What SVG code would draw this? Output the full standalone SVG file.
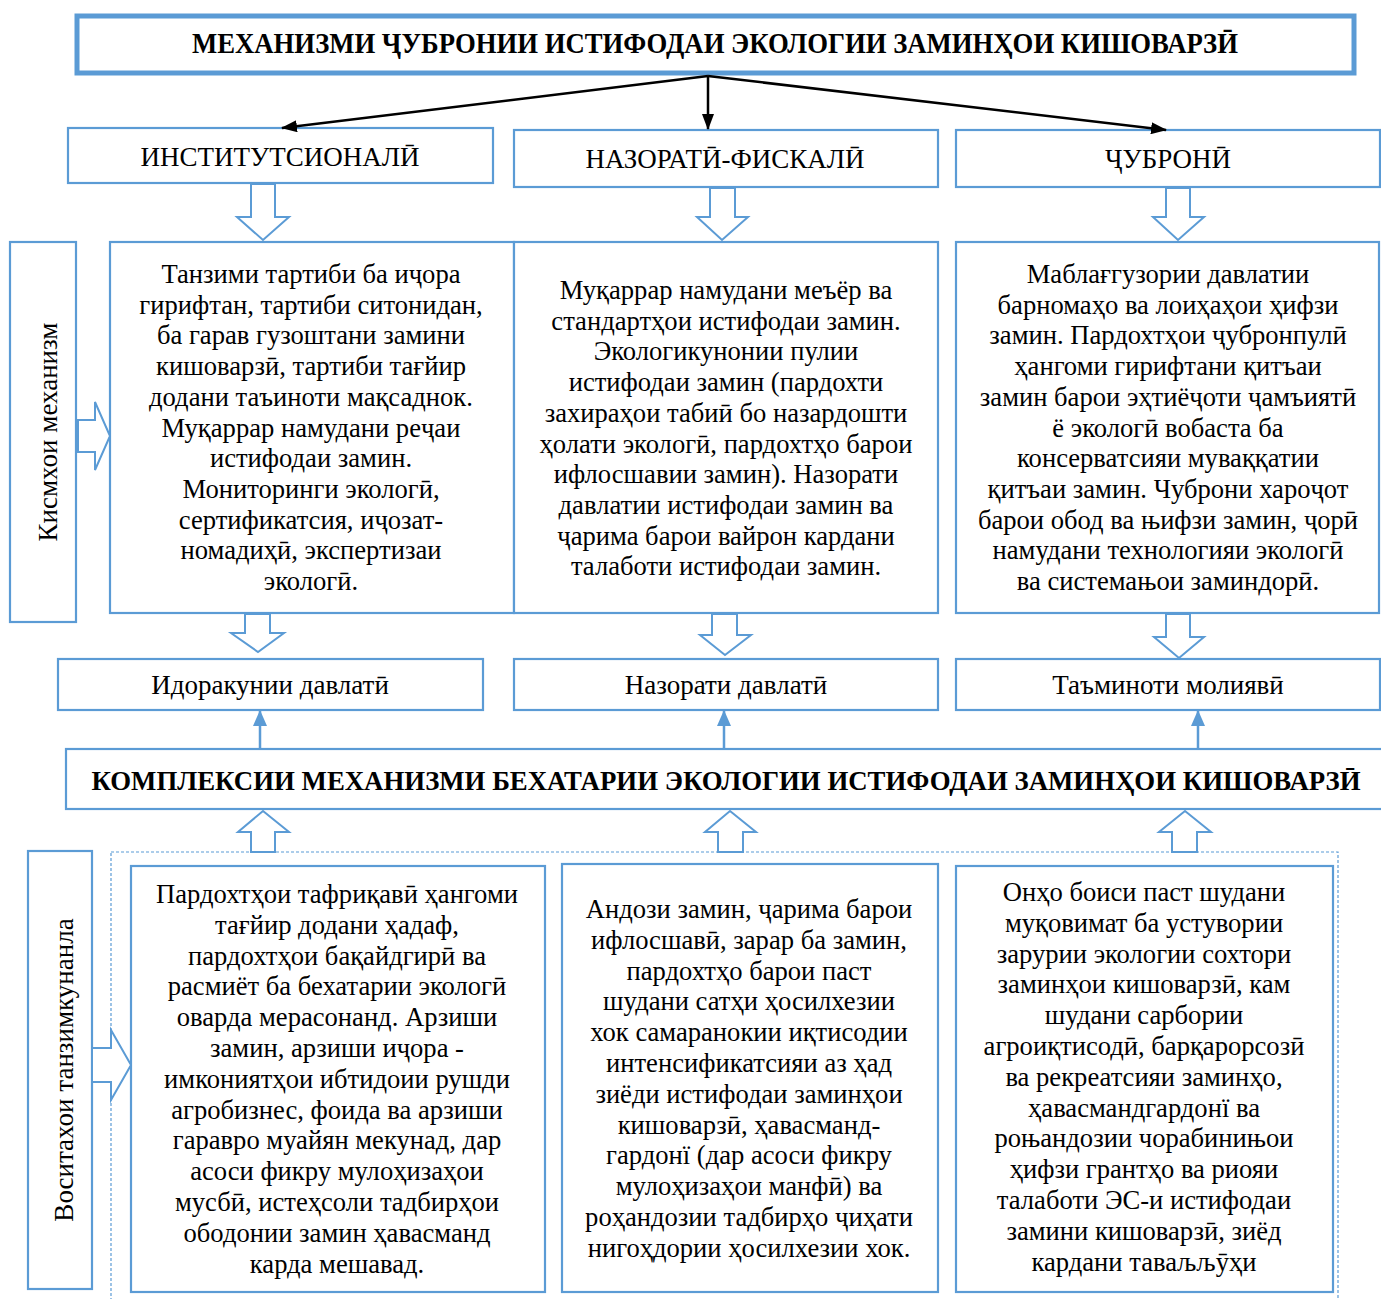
<svg xmlns="http://www.w3.org/2000/svg" width="1381" height="1299" viewBox="0 0 1381 1299">
<style>
.bx{fill:#fff;stroke:#5b9bd5;stroke-width:2.2}
.ha{fill:#fff;stroke:#5b9bd5;stroke-width:2}
.t{font-family:"Liberation Serif","DejaVu Serif",serif;font-size:26.6px;fill:#000;text-anchor:middle}
.h{font-family:"Liberation Serif","DejaVu Serif",serif;font-size:27px;fill:#000;text-anchor:middle}
.hb{font-family:"Liberation Serif","DejaVu Serif",serif;font-weight:bold;fill:#000;text-anchor:middle}
.k{stroke:#000;stroke-width:2.5;fill:none}
.bl{stroke:#5b9bd5;stroke-width:2.5;fill:none}
</style>
<defs>
<marker id="ak" viewBox="0 0 16 12" refX="15" refY="6" markerWidth="16" markerHeight="12" markerUnits="userSpaceOnUse" orient="auto"><path d="M0,0 L16,6 L0,12 z" fill="#000"/></marker>
<marker id="ab" viewBox="0 0 16 14" refX="15" refY="7" markerWidth="16" markerHeight="14" markerUnits="userSpaceOnUse" orient="auto"><path d="M0,0 L16,7 L0,14 z" fill="#5b9bd5"/></marker>
</defs>
<rect width="1381" height="1299" fill="#fff"/>

<g id="title">
<rect x="77" y="16" width="1277" height="57" fill="#fff" stroke="#5b9bd5" stroke-width="5"/>
<text class="hb" x="715" y="53" font-size="29" textLength="1046" lengthAdjust="spacingAndGlyphs">МЕХАНИЗМИ ҶУБРОНИИ ИСТИФОДАИ ЭКОЛОГИИ ЗАМИНҲОИ КИШОВАРЗӢ</text>
</g>

<g id="institutional">
<rect class="bx" x="68" y="128" width="425" height="55"/>
<text class="h" x="280" y="166">ИНСТИТУТСИОНАЛӢ</text>
</g>
<g id="fiscal">
<rect class="bx" x="514" y="130" width="424" height="57"/>
<text class="h" x="725" y="168">НАЗОРАТӢ-ФИСКАЛӢ</text>
</g>
<g id="compensation">
<rect class="bx" x="956" y="130" width="424" height="57"/>
<text class="h" x="1168" y="168">ҶУБРОНӢ</text>
</g>

<g id="label-parts">
<rect class="bx" x="10" y="242" width="66" height="380"/>
<text class="h" font-size="26" transform="translate(57,432) rotate(-90)">Кисмхои механизм</text>
</g>

<g id="text-institutional">
<rect class="bx" x="110" y="242" width="404" height="371"/>
<text class="t"><tspan x="311" y="283">Танзими тартиби ба иҷора</tspan><tspan x="311" y="313.7">гирифтан, тартиби ситонидан,</tspan><tspan x="311" y="344.4">ба гарав гузоштани замини</tspan><tspan x="311" y="375.1">кишоварзӣ, тартиби тағйир</tspan><tspan x="311" y="405.8">додани таъиноти мақсаднок.</tspan><tspan x="311" y="436.5">Муқаррар намудани реҷаи</tspan><tspan x="311" y="467.2">истифодаи замин.</tspan><tspan x="311" y="497.9">Мониторинги экологӣ,</tspan><tspan x="311" y="528.6">сертификатсия, иҷозат-</tspan><tspan x="311" y="559.3">номадиҳӣ, экспертизаи</tspan><tspan x="311" y="590">экологӣ.</tspan></text>
</g>

<g id="text-fiscal">
<rect class="bx" x="514" y="242" width="424" height="371"/>
<text class="t"><tspan x="726" y="299">Муқаррар намудани меъёр ва</tspan><tspan x="726" y="329.7">стандартҳои истифодаи замин.</tspan><tspan x="726" y="360.4">Экологикунонии пулии</tspan><tspan x="726" y="391.1">истифодаи замин (пардохти</tspan><tspan x="726" y="421.8">захираҳои табиӣ бо назардошти</tspan><tspan x="726" y="452.5">ҳолати экологӣ, пардохтҳо барои</tspan><tspan x="726" y="483.2">ифлосшавии замин). Назорати</tspan><tspan x="726" y="513.9">давлатии истифодаи замин ва</tspan><tspan x="726" y="544.6">ҷарима барои вайрон кардани</tspan><tspan x="726" y="575.3">талаботи истифодаи замин.</tspan></text>
</g>

<g id="text-compensation">
<rect class="bx" x="956" y="242" width="423" height="371"/>
<text class="t"><tspan x="1168" y="283">Маблағгузории давлатии</tspan><tspan x="1168" y="313.7">барномаҳо ва лоиҳаҳои ҳифзи</tspan><tspan x="1168" y="344.4">замин. Пардохтҳои ҷубронпулӣ</tspan><tspan x="1168" y="375.1">ҳангоми гирифтани қитъаи</tspan><tspan x="1168" y="405.8">замин барои эҳтиёҷоти ҷамъиятӣ</tspan><tspan x="1168" y="436.5">ё экологӣ вобаста ба</tspan><tspan x="1168" y="467.2">консерватсияи муваққатии</tspan><tspan x="1168" y="497.9">қитъаи замин. Чуброни хароҷот</tspan><tspan x="1168" y="528.6">барои обод ва њифзи замин, ҷорӣ</tspan><tspan x="1168" y="559.3">намудани технологияи экологӣ</tspan><tspan x="1168" y="590">ва системањои заминдорӣ.</tspan></text>
</g>

<g id="state-management">
<rect class="bx" x="58" y="659" width="425" height="51"/>
<text class="h" x="270" y="694">Идоракунии давлатӣ</text>
</g>
<g id="state-control">
<rect class="bx" x="514" y="659" width="424" height="51"/>
<text class="h" x="726" y="694">Назорати давлатӣ</text>
</g>
<g id="financing">
<rect class="bx" x="956" y="659" width="424" height="51"/>
<text class="h" x="1168" y="694">Таъминоти молиявӣ</text>
</g>

<g id="complex">
<rect class="bx" x="66" y="749" width="1330" height="60"/>
<text class="hb" x="726" y="790" font-size="27" textLength="1269" lengthAdjust="spacingAndGlyphs">КОМПЛЕКСИИ МЕХАНИЗМИ БЕХАТАРИИ ЭКОЛОГИИ ИСТИФОДАИ ЗАМИНҲОИ КИШОВАРЗӢ</text>
</g>

<g id="container">
<rect x="111" y="852" width="1227" height="460" fill="none" stroke="#5b9bd5" stroke-width="1.2" stroke-dasharray="3 2"/>
</g>

<g id="label-tools">
<rect class="bx" x="28" y="851" width="64" height="438"/>
<text class="h" font-size="26" transform="translate(73,1070) rotate(-90)">Воситахои танзимкунанла</text>
</g>

<g id="tools-1">
<rect class="bx" x="131" y="866" width="414" height="426" stroke-width="3"/>
<text class="t"><tspan x="337" y="903">Пардохтҳои тафриқавӣ ҳангоми</tspan><tspan x="337" y="933.8">тағйир додани ҳадаф,</tspan><tspan x="337" y="964.6">пардохтҳои бақайдгирӣ ва</tspan><tspan x="337" y="995.4">расмиёт ба бехатарии экологӣ</tspan><tspan x="337" y="1026.2">оварда мерасонанд. Арзиши</tspan><tspan x="337" y="1057">замин, арзиши иҷора -</tspan><tspan x="337" y="1087.8">имкониятҳои ибтидоии рушди</tspan><tspan x="337" y="1118.6">агробизнес, фоида ва арзиши</tspan><tspan x="337" y="1149.4">гаравро муайян мекунад, дар</tspan><tspan x="337" y="1180.2">асоси фикру мулоҳизаҳои</tspan><tspan x="337" y="1211">мусбӣ, истеҳсоли тадбирҳои</tspan><tspan x="337" y="1241.8">ободонии замин ҳавасманд</tspan><tspan x="337" y="1272.6">карда мешавад.</tspan></text>
</g>

<g id="tools-2">
<rect class="bx" x="562" y="864" width="376" height="428" stroke-width="3"/>
<text class="t"><tspan x="749" y="918">Андози замин, ҷарима барои</tspan><tspan x="749" y="948.8">ифлосшавӣ, зарар ба замин,</tspan><tspan x="749" y="979.6">пардохтҳо барои паст</tspan><tspan x="749" y="1010.4">шудани сатҳи ҳосилхезии</tspan><tspan x="749" y="1041.2">хок самаранокии иқтисодии</tspan><tspan x="749" y="1072">интенсификатсияи аз ҳад</tspan><tspan x="749" y="1102.8">зиёди истифодаи заминҳои</tspan><tspan x="749" y="1133.6">кишоварзӣ, ҳавасманд-</tspan><tspan x="749" y="1164.4">гардонї (дар асоси фикру</tspan><tspan x="749" y="1195.2">мулоҳизаҳои манфӣ) ва</tspan><tspan x="749" y="1226">роҳандозии тадбирҳо ҷиҳати</tspan><tspan x="749" y="1256.8">нигоҳдории ҳосилхезии хок.</tspan></text>
</g>

<g id="tools-3">
<rect class="bx" x="956" y="866" width="377" height="426" stroke-width="3"/>
<text class="t"><tspan x="1144" y="901">Онҳо боиси паст шудани</tspan><tspan x="1144" y="931.8">муқовимат ба устувории</tspan><tspan x="1144" y="962.6">зарурии экологии сохтори</tspan><tspan x="1144" y="993.4">заминҳои кишоварзӣ, кам</tspan><tspan x="1144" y="1024.2">шудани сарбории</tspan><tspan x="1144" y="1055">агроиқтисодӣ, барқарорсозӣ</tspan><tspan x="1144" y="1085.8">ва рекреатсияи заминҳо,</tspan><tspan x="1144" y="1116.6">ҳавасмандгардонї ва</tspan><tspan x="1144" y="1147.4">роњандозии чорабинињои</tspan><tspan x="1144" y="1178.2">ҳифзи грантҳо ва риояи</tspan><tspan x="1144" y="1209">талаботи ЭС-и истифодаи</tspan><tspan x="1144" y="1239.8">замини кишоварзӣ, зиёд</tspan><tspan x="1144" y="1270.6">кардани таваљљӯҳи</tspan></text>
</g>

<g id="connectors">
<line class="k" x1="708" y1="76" x2="282" y2="128" marker-end="url(#ak)"/>
<line class="k" x1="708" y1="76" x2="708" y2="129" marker-end="url(#ak)"/>
<line class="k" x1="708" y1="76" x2="1166" y2="130" marker-end="url(#ak)"/>

<polygon class="ha" points="251,184 275,184 275,217 289,217 263,240 237,217 251,217"/>
<polygon class="ha" points="710,188 735,188 735,217 748,217 722,240 697,217 710,217"/>
<polygon class="ha" points="1166,188 1190,188 1190,217 1204,217 1178,240 1153,217 1166,217"/>

<polygon class="ha" points="78,420 95,420 95,402 110,436 95,470 95,452 78,452"/>

<polygon class="ha" points="245,614 270,614 270,633 284,633 258,652 231,633 245,633"/>
<polygon class="ha" points="712,614 737,614 737,635 751,635 725,655 700,635 712,635"/>
<polygon class="ha" points="1166,614 1190,614 1190,637 1204,637 1179,658 1154,637 1166,637"/>

<line class="bl" x1="260" y1="749" x2="260" y2="711" marker-end="url(#ab)"/>
<line class="bl" x1="724" y1="749" x2="724" y2="711" marker-end="url(#ab)"/>
<line class="bl" x1="1198" y1="749" x2="1198" y2="711" marker-end="url(#ab)"/>

<polygon class="ha" points="263,811 289,832 275,832 275,852 251,852 251,832 238,832"/>
<polygon class="ha" points="730,811 756,832 743,832 743,852 718,852 718,832 705,832"/>
<polygon class="ha" points="1185,811 1211,832 1197,832 1197,852 1172,852 1172,832 1159,832"/>

<polygon class="ha" points="92,1048 111,1048 111,1030 131,1065 111,1100 111,1082 92,1082"/>
</g>
</svg>
